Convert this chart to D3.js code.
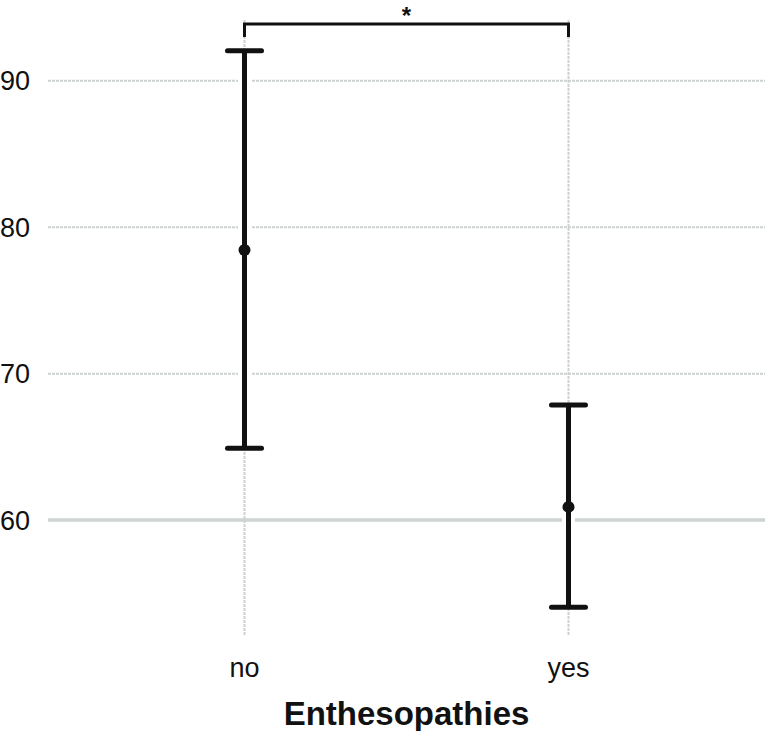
<!DOCTYPE html>
<html>
<head>
<meta charset="utf-8">
<script src="https://cdn.jsdelivr.net/npm/d3@7"></script>
<style>
  body { margin: 0; background: #fff; }
  text { font-family: "Liberation Sans", Arial, sans-serif; fill: #111; }
</style>
</head>
<body>
<script>
// data
const groups = ['no', 'yes'];
const means = [78.45, 60.9];
const lower = [64.9, 54.05];
const upper = [92.05, 67.85];
const yTicks = [60, 70, 80, 90];
const sigLabel = '*';

const width = 767;
const height = 731;
const plot = { left: 48, right: 765, top: 20, bottom: 635 };

const svg = d3.select('body').append('svg')
  .attr('width', width)
  .attr('height', height);

const x = d3.scalePoint()
  .domain(groups)
  .range([plot.left, plot.right])
  .padding(0.6065);

const y = d3.scaleLinear()
  .domain([52.15, 94.15])
  .range([plot.bottom, plot.top]);

// horizontal grid
svg.selectAll('.hgrid')
  .data(yTicks)
  .enter().append('line')
  .attr('class', 'hgrid')
  .attr('x1', plot.left)
  .attr('x2', plot.right)
  .attr('y1', d => y(d))
  .attr('y2', d => y(d))
  .attr('stroke', d => d === 60 ? '#cfd3d3' : '#cdd1d1')
  .attr('stroke-width', d => d === 60 ? 3.5 : 2)
  .attr('stroke-dasharray', d => d === 60 ? null : '3,1');

// vertical grid
svg.selectAll('.vgrid')
  .data(groups)
  .enter().append('line')
  .attr('class', 'vgrid')
  .attr('x1', d => x(d))
  .attr('x2', d => x(d))
  .attr('y1', plot.top)
  .attr('y2', plot.bottom)
  .attr('stroke', '#cdd1d1')
  .attr('stroke-width', 2)
  .attr('stroke-dasharray', '3,1');

// y tick labels
svg.selectAll('.ylab')
  .data(yTicks)
  .enter().append('text')
  .attr('class', 'ylab')
  .attr('x', 30)
  .attr('y', d => y(d))
  .attr('dy', '0.36em')
  .attr('text-anchor', 'end')
  .attr('font-size', 27)
  .text(d => d);

// x tick labels
svg.selectAll('.xlab')
  .data(groups)
  .enter().append('text')
  .attr('class', 'xlab')
  .attr('x', d => x(d))
  .attr('y', 677)
  .attr('text-anchor', 'middle')
  .attr('font-size', 27)
  .text(d => d);

// axis title
svg.append('text')
  .attr('x', (plot.left + plot.right) / 2)
  .attr('y', 725)
  .attr('text-anchor', 'middle')
  .attr('font-size', 33)
  .attr('font-weight', 'bold')
  .text('Enthesopathies');

// error bars
const bars = svg.selectAll('.bar')
  .data(groups)
  .enter().append('g')
  .attr('class', 'bar');

bars.append('line')
  .attr('x1', d => x(d)).attr('x2', d => x(d))
  .attr('y1', (d, i) => y(lower[i])).attr('y2', (d, i) => y(upper[i]))
  .attr('stroke', '#fff').attr('stroke-width', 13);

bars.append('line')
  .attr('x1', d => x(d)).attr('x2', d => x(d))
  .attr('y1', (d, i) => y(lower[i])).attr('y2', (d, i) => y(upper[i]))
  .attr('stroke', '#111').attr('stroke-width', 5);

bars.selectAll('.cap')
  .data((d, i) => [{ g: d, v: lower[i] }, { g: d, v: upper[i] }])
  .enter().append('line')
  .attr('class', 'cap')
  .attr('x1', d => x(d.g) - 17).attr('x2', d => x(d.g) + 17)
  .attr('y1', d => y(d.v)).attr('y2', d => y(d.v))
  .attr('stroke', '#111').attr('stroke-width', 5)
  .attr('stroke-linecap', 'round');

bars.append('circle')
  .attr('cx', d => x(d))
  .attr('cy', (d, i) => y(means[i]))
  .attr('r', 6)
  .attr('fill', '#111');

// significance bracket
const by = 24;
const bx1 = x(groups[0]);
const bx2 = x(groups[1]);
svg.append('path')
  .attr('d', `M${bx1},${by + 13}V${by}H${bx2}V${by + 13}`)
  .attr('fill', 'none')
  .attr('stroke', '#111')
  .attr('stroke-width', 3);

svg.append('text')
  .attr('x', (bx1 + bx2) / 2)
  .attr('y', 24)
  .attr('text-anchor', 'middle')
  .attr('font-size', 24)
  .attr('font-weight', 'bold')
  .text(sigLabel);
</script>
</body>
</html>
